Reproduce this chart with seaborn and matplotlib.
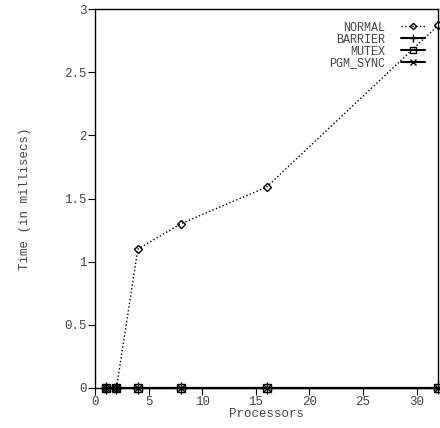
import matplotlib
matplotlib.use("Agg")
import matplotlib.pyplot as plt
import seaborn as sns
import pandas as pd

processors = [1, 2, 4, 8, 16, 32]
normal = [0.0, 0.0, 1.10, 1.30, 1.59, 2.87]
barrier = [0.0, 0.0, 0.0, 0.0, 0.0, 0.0]
mutex = [0.0, 0.0, 0.0, 0.0, 0.0, 0.0]
pgm_sync = [0.0, 0.0, 0.0, 0.0, 0.0, 0.0]
x_ticks = [0, 5, 10, 15, 20, 25, 30]
y_ticks = [0, 0.5, 1, 1.5, 2, 2.5, 3]
y_tick_labels = ["0", "0.5", "1", "1.5", "2", "2.5", "3"]

sns.set_style("white")
plt.rcParams['font.family'] = ['Liberation Mono', 'DejaVu Sans']

fig = plt.figure(figsize=(4.4, 4.28), dpi=100)
ax = fig.add_axes([95/440, 40/428, 343/440, 379/428])

series = [
    ("NORMAL", normal, dict(linestyle=":", marker="D", markersize=4, markerfacecolor="none", linewidth=1.0)),
    ("BARRIER", barrier, dict(linestyle="-", marker="+", markersize=8, linewidth=1.5)),
    ("MUTEX", mutex, dict(linestyle="-", marker="s", markersize=6, markerfacecolor="none", linewidth=1.5)),
    ("PGM_SYNC", pgm_sync, dict(linestyle="-", marker="x", markersize=6, linewidth=1.5)),
]
for name, vals, kw in series:
    df = pd.DataFrame({"Processors": processors, "Time": vals})
    sns.lineplot(data=df, x="Processors", y="Time", ax=ax, color="black",
                 label=name, markeredgecolor="black", markeredgewidth=1.0,
                 clip_on=False, **kw)

ax.set_xlim(0, 32)
ax.set_ylim(0, 3)
ax.set_xticks(x_ticks)
ax.set_yticks(y_ticks)
ax.set_yticklabels(y_tick_labels)
ax.tick_params(axis="both", direction="out", length=5, width=0.8, colors="black",
               labelcolor="#444444", labelsize=9, pad=1, bottom=True, left=True)
for s in ax.spines.values():
    s.set_color("black")
    s.set_linewidth(1.0)
ax.set_xlabel("Processors", fontsize=9, color="#444444", labelpad=0)
ax.set_ylabel("Time (in millisecs)", fontsize=9, color="#444444", labelpad=24)

leg = ax.legend(loc="upper right", frameon=False, markerfirst=False, fontsize=8.5,
                handlelength=2.0, handletextpad=1.4, labelspacing=0.0,
                borderpad=0, borderaxespad=0, bbox_to_anchor=(0.962, 0.967))
for t in leg.get_texts():
    t.set_color("#444444")
for h in leg.legend_handles:
    h.set_markersize(h.get_markersize() * 0.8)

fig.savefig("out.png", dpi=100)
